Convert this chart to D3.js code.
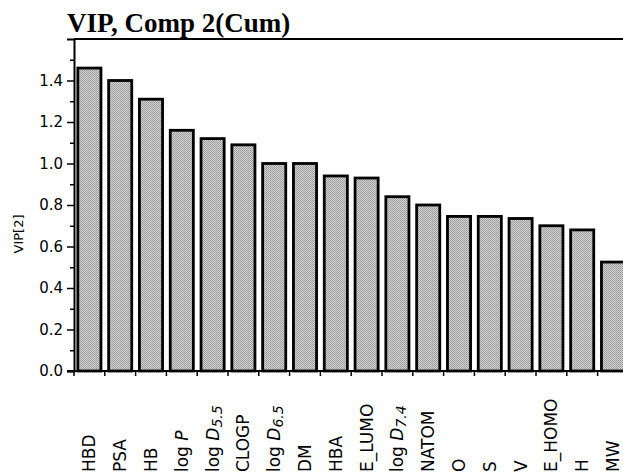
<!DOCTYPE html>
<html>
<head>
<meta charset="utf-8">
<script src="https://cdn.jsdelivr.net/npm/d3@7"></script>
<style>
  html, body { margin: 0; padding: 0; background: #fff; }
  svg { display: block; }
</style>
</head>
<body>
<script>
// VIP values for component 2 (cumulative)
const variables = ['HBD', 'PSA', 'HB', 'log P', 'log D5.5', 'CLOGP', 'log D6.5', 'DM', 'HBA',
  'E_LUMO', 'log D7.4', 'NATOM', 'O', 'S', 'V', 'E_HOMO', 'H', 'MW'];
const vip = [1.46, 1.40, 1.31, 1.16, 1.12, 1.09, 1.00, 1.00, 0.94,
  0.93, 0.84, 0.80, 0.745, 0.745, 0.735, 0.70, 0.68, 0.525];
const yMajorTicks = [0, 0.2, 0.4, 0.6, 0.8, 1.0, 1.2, 1.4];
const yMinorTicks = [0.1, 0.3, 0.5, 0.7, 0.9, 1.1, 1.3, 1.5];

const width = 623;
const height = 474;
const plotLeft = 74, plotTop = 39, plotBottom = 371;
const sans = 'DejaVu Sans, Verdana, sans-serif';

const svg = d3.select('body')
  .append('svg')
  .attr('width', width)
  .attr('height', height);

// stippled grey like the printed bars
const defs = svg.append('defs');
const pat = defs.append('pattern')
  .attr('id', 'stipple')
  .attr('width', 2)
  .attr('height', 2)
  .attr('patternUnits', 'userSpaceOnUse');
pat.append('rect').attr('width', 2).attr('height', 2).attr('fill', '#d0d0d0');
pat.append('rect').attr('width', 1).attr('height', 1).attr('fill', '#999');
pat.append('rect').attr('x', 1).attr('y', 1).attr('width', 1).attr('height', 1).attr('fill', '#a6a6a6');

const x = d3.scaleBand()
  .domain(variables)
  .range([plotLeft, plotLeft + 18 * 30.8])
  .paddingInner(0.25)
  .paddingOuter(0.125);

const y = d3.scaleLinear()
  .domain([0, 1.6])
  .range([plotBottom, plotTop]);

// bars
svg.append('g')
  .selectAll('rect')
  .data(variables)
  .enter()
  .append('rect')
  .attr('x', d => x(d))
  .attr('y', (d, i) => y(vip[i]))
  .attr('width', x.bandwidth())
  .attr('height', (d, i) => y(0) - y(vip[i]))
  .attr('fill', 'url(#stipple)')
  .attr('stroke', '#000')
  .attr('stroke-width', 2.8);

// frame: top border
svg.append('line')
  .attr('x1', plotLeft).attr('x2', width)
  .attr('y1', plotTop).attr('y2', plotTop)
  .attr('stroke', '#000')
  .attr('stroke-width', 2);

// y axis, major + minor
const yAxis = svg.append('g')
  .attr('transform', `translate(${plotLeft},0)`)
  .call(d3.axisLeft(y)
    .tickValues(yMajorTicks)
    .tickFormat(d3.format('.1f'))
    .tickSize(7)
    .tickPadding(4));
yAxis.select('.domain').attr('stroke-width', 2);
yAxis.selectAll('.tick line').attr('stroke-width', 1.5);
yAxis.selectAll('.tick text')
  .attr('font-family', sans)
  .attr('font-size', 15)
  .attr('fill', '#000');

const yMinor = svg.append('g')
  .attr('transform', `translate(${plotLeft},0)`)
  .call(d3.axisLeft(y).tickValues(yMinorTicks).tickFormat('').tickSize(4));
yMinor.select('.domain').remove();
yMinor.selectAll('.tick line').attr('stroke-width', 1.5);

// x axis with ticks between the bars
const boundaries = d3.range(variables.length + 1).map(i => plotLeft + i * x.step());
svg.append('line')
  .attr('x1', plotLeft - 7).attr('x2', width)
  .attr('y1', y(0)).attr('y2', y(0))
  .attr('stroke', '#000')
  .attr('stroke-width', 2);
svg.append('g')
  .selectAll('line')
  .data(boundaries)
  .enter()
  .append('line')
  .attr('x1', d => d).attr('x2', d => d)
  .attr('y1', y(0)).attr('y2', y(0) + 5)
  .attr('stroke', '#000')
  .attr('stroke-width', 1.5);

// category labels, rotated; "log P", "log D5.5" get italics
const labels = svg.append('g')
  .attr('font-family', sans)
  .attr('font-size', 17)
  .selectAll('text')
  .data(variables)
  .enter()
  .append('text')
  .attr('transform', d => `translate(${x(d) + x.bandwidth() / 2},472) rotate(-90)`)
  .attr('dy', '0.35em')
  .attr('text-anchor', 'start');

labels.each(function (d) {
  const t = d3.select(this);
  const m = d.match(/^log ([PD])(.*)$/);
  if (!m) { t.text(d); return; }
  t.append('tspan').text('log ');
  t.append('tspan').attr('font-style', 'italic').text(m[1]);
  if (m[2]) {
    t.append('tspan')
      .attr('font-style', 'italic')
      .attr('font-size', 14)
      .attr('dy', 3)
      .text(m[2]);
  }
});

// axis title
svg.append('text')
  .attr('transform', 'translate(23,234) rotate(-90)')
  .attr('text-anchor', 'middle')
  .attr('font-family', sans)
  .attr('font-size', 13)
  .text('VIP[2]');

// chart title
svg.append('text')
  .attr('x', 67)
  .attr('y', 32)
  .attr('font-family', 'Liberation Serif, Times New Roman, serif')
  .attr('font-weight', 'bold')
  .attr('font-size', 27)
  .text('VIP, Comp 2(Cum)');
</script>
</body>
</html>
